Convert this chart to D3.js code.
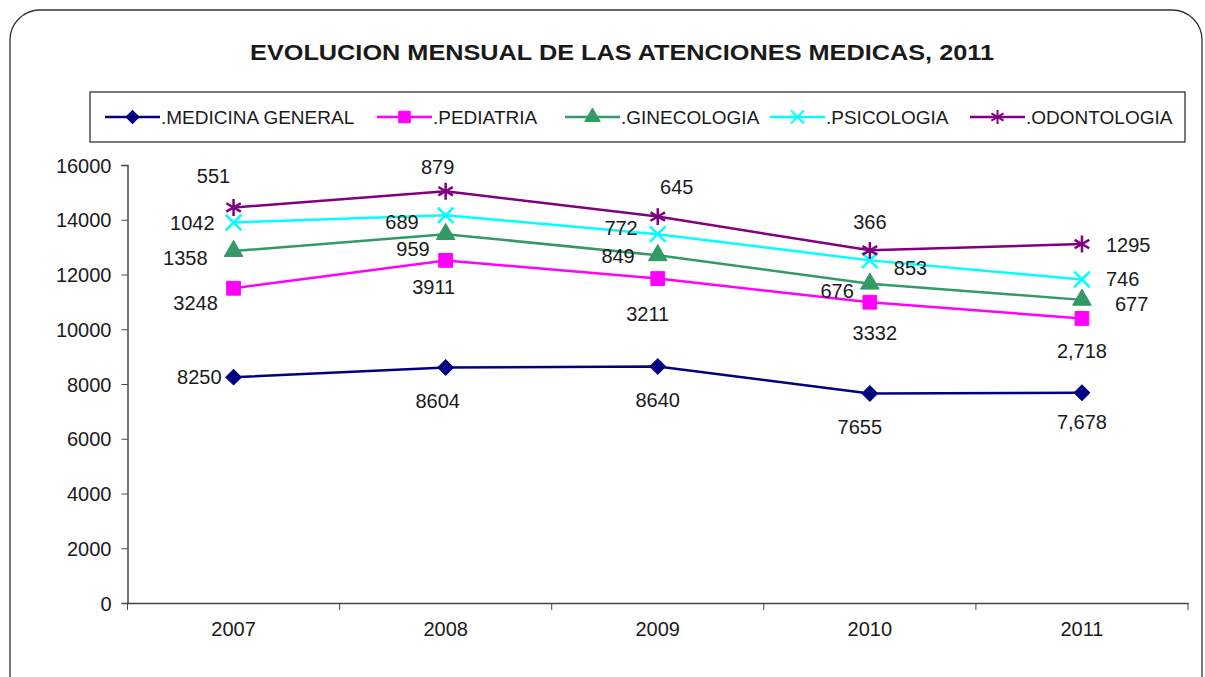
<!DOCTYPE html>
<html>
<head>
<meta charset="utf-8">
<script src="https://cdn.jsdelivr.net/npm/d3@7"></script>
<style>
  body { margin: 0; background: #fff; }
  text { font-family: Arial, "Liberation Sans", sans-serif; fill: #1a1a1a; }
</style>
</head>
<body>
<div class="chart"></div>
<script>
// data
var years = ["2007", "2008", "2009", "2010", "2011"];
var seriesNames = [".MEDICINA GENERAL", ".PEDIATRIA", ".GINECOLOGIA", ".PSICOLOGIA", ".ODONTOLOGIA"];
var medicina    = [8250, 8604, 8640, 7655, 7678];
var pediatria   = [3248, 3911, 3211, 3332, 2718];
var ginecologia = [1358, 959, 849, 676, 677];
var psicologia  = [1042, 689, 772, 853, 746];
var odontologia = [551, 879, 645, 366, 1295];
var yTicks = [0, 2000, 4000, 6000, 8000, 10000, 12000, 14000, 16000];

var colors = ["#000080", "#ff00ff", "#339966", "#00ffff", "#800080"];
var symbols = ["diamond", "square", "triangle", "cross", "star"];

// label offsets (dx, dy, anchor) per series / year
var labelPos = [
  [[-12, 0, "end"], [-8, 34, "middle"], [0, 34, "middle"], [-10, 34, "middle"], [0, 29, "middle"]],
  [[-38, 15, "middle"], [-12, 27, "middle"], [-10, 35, "middle"], [5, 31, "middle"], [0, 33, "middle"]],
  [[-26, 7, "end"], [-16, 15, "end"], [-23, 1, "end"], [-16, 7, "end"], [33, 4, "start"]],
  [[-19, 0, "end"], [-27, 7, "end"], [-20, -6, "end"], [24, 8, "start"], [24, 0, "start"]],
  [[-20, -31, "middle"], [-8, -24, "middle"], [19, -30, "middle"], [0, -28, "middle"], [24, 1, "start"]]
];

var W = 1205, H = 677;
var margin = {top: 165, left: 127.5, right: 17, bottom: 74};
var width = W - margin.left - margin.right,
    height = H - margin.top - margin.bottom;

var svg = d3.select(".chart").append("svg")
    .attr("width", W)
    .attr("height", H);

// outer frame
svg.append("rect")
    .attr("x", 10).attr("y", 10)
    .attr("width", 1192).attr("height", 720)
    .attr("rx", 30).attr("ry", 30)
    .attr("fill", "none")
    .attr("stroke", "#333")
    .attr("stroke-width", 1.3);

// title
svg.append("text")
    .attr("transform", "translate(622,60) scale(1.15,1)")
    .attr("text-anchor", "middle")
    .style("font-size", "22px")
    .style("font-weight", "bold")
    .text("EVOLUCION MENSUAL  DE LAS  ATENCIONES MEDICAS, 2011");

var g = svg.append("g")
    .attr("transform", "translate(" + margin.left + "," + margin.top + ")");

var x = d3.scaleBand().domain(years).range([0, width]);
var y = d3.scaleLinear().domain([0, 16000]).range([height, 0]);

// stacked values
var rows = years.map(function(yr, i) {
  return {year: yr, s0: medicina[i], s1: pediatria[i], s2: ginecologia[i], s3: psicologia[i], s4: odontologia[i]};
});
var stack = d3.stack().keys(["s0", "s1", "s2", "s3", "s4"]);
var layers = stack(rows);

// axes
var yAxis = d3.axisLeft(y).tickValues(yTicks).tickFormat(d3.format("d")).tickSize(6).tickPadding(10);
var yg = g.append("g").call(yAxis);
yg.selectAll("text").style("font-size", "20px").attr("dy", "0.35em");

var xAxis = d3.axisBottom(x).tickSize(0).tickPadding(19);
var xg = g.append("g").attr("transform", "translate(0," + height + ")").call(xAxis);
xg.selectAll("text").style("font-size", "20px");
// category separators
xg.selectAll(".sep")
  .data(years.concat(["end"]))
  .enter().append("line")
    .attr("x1", function(d, i) { return i * x.step(); })
    .attr("x2", function(d, i) { return i * x.step(); })
    .attr("y1", 0).attr("y2", 7)
    .attr("stroke", "#444");
g.selectAll(".domain").attr("stroke", "#444").attr("stroke-width", 1.5);
g.selectAll(".tick line").attr("stroke", "#444");

function symbolFor(k, size) {
  var t = {diamond: d3.symbolSquare, square: d3.symbolSquare, triangle: d3.symbolTriangle,
           cross: d3.symbolX, star: d3.symbolAsterisk}[symbols[k]];
  return d3.symbol().type(t).size(size)();
}
function rot(k) { return symbols[k] == "diamond" ? " rotate(45)" : ""; }
var markerSize = [120, 190, 150, 160, 200];

var line = d3.line()
    .x(function(d) { return x(d.data.year) + x.bandwidth() / 2; })
    .y(function(d) { return y(d[1]); });

layers.forEach(function(layer, k) {
  g.append("path")
      .datum(layer)
      .attr("fill", "none")
      .attr("stroke", colors[k])
      .attr("stroke-width", 2.5)
      .attr("d", line);

  g.selectAll(".m" + k)
    .data(layer)
    .enter().append("path")
      .attr("transform", function(d) {
        return "translate(" + (x(d.data.year) + x.bandwidth() / 2) + "," + y(d[1]) + ")" + rot(k);
      })
      .attr("d", symbolFor(k, markerSize[k]))
      .attr("fill", colors[k])
      .attr("stroke", colors[k])
      .attr("stroke-width", (symbols[k] == "cross" || symbols[k] == "star") ? 2.5 : 1);

  g.selectAll(".l" + k)
    .data(layer)
    .enter().append("text")
      .attr("x", function(d, i) { return x(d.data.year) + x.bandwidth() / 2 + labelPos[k][i][0]; })
      .attr("y", function(d, i) { return y(d[1]) + labelPos[k][i][1]; })
      .attr("dy", "0.35em")
      .attr("text-anchor", function(d, i) { return labelPos[k][i][2]; })
      .style("font-size", "20px")
      .text(function(d, i) {
        var v = d[1] - d[0];
        return (i == 4 && k < 2) ? d3.format(",")(v) : String(v);
      });
});

// legend
var legend = svg.append("g");
legend.append("rect")
    .attr("x", 90).attr("y", 92)
    .attr("width", 1095).attr("height", 50)
    .attr("fill", "#fff")
    .attr("stroke", "#333")
    .attr("stroke-width", 1.3);

var legendX = [105, 377, 565, 770, 970];
seriesNames.forEach(function(name, k) {
  var lg = legend.append("g").attr("transform", "translate(" + legendX[k] + ",117)");
  lg.append("line")
      .attr("x1", 0).attr("x2", 55)
      .attr("stroke", colors[k]).attr("stroke-width", 2.5);
  lg.append("path")
      .attr("transform", "translate(27.5,0)" + rot(k))
      .attr("d", symbolFor(k, markerSize[k] * 0.7))
      .attr("fill", colors[k])
      .attr("stroke", colors[k])
      .attr("stroke-width", (symbols[k] == "cross" || symbols[k] == "star") ? 2 : 1);
  lg.append("text")
      .attr("x", 56)
      .attr("dy", "0.35em")
      .style("font-size", "19px")
      .text(name);
});
</script>
</body>
</html>
